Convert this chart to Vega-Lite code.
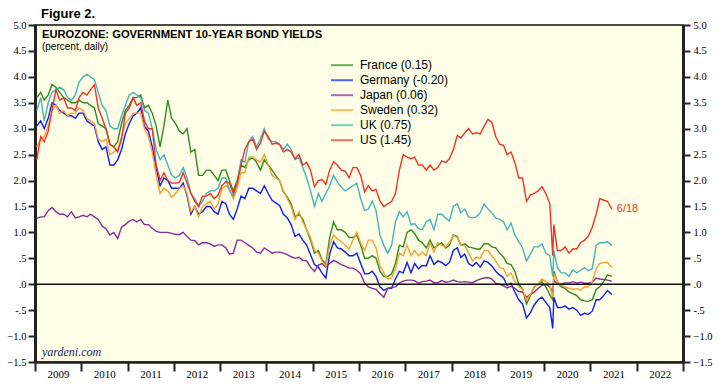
{
"$schema": "https://vega.github.io/schema/vega-lite/v6.json",
"width": 648, "height": 337,
"autosize": {"type": "none"},
"padding": {"left": 35, "top": 25, "right": 41, "bottom": 24},
"background": "white",
"config": {"view": {"fill": "#fffee6", "stroke": "#111", "strokeWidth": 1.5}, "font": "Liberation Sans"},
"title": {"text": "Figure 2.", "anchor": "start", "frame": "group", "fontSize": 13, "fontWeight": "bold", "font": "Liberation Sans", "baseline": "alphabetic", "offset": -11, "dx": 6, "color": "#000"},
"datasets": {"yields": [
{"d":"2009-01-15","France":3.6,"Germany":3.05,"Japan":1.27,"Sweden":2.65,"UK":3.35,"US":2.4},
{"d":"2009-02-15","France":3.7,"Germany":3.15,"Japan":1.3,"Sweden":2.8,"UK":3.6,"US":2.85},
{"d":"2009-03-15","France":3.55,"Germany":3.0,"Japan":1.3,"Sweden":2.85,"UK":3.15,"US":2.75},
{"d":"2009-04-15","France":3.65,"Germany":3.2,"Japan":1.42,"Sweden":3.05,"UK":3.5,"US":2.95},
{"d":"2009-05-15","France":3.85,"Germany":3.5,"Japan":1.48,"Sweden":3.35,"UK":3.7,"US":3.35},
{"d":"2009-06-15","France":3.8,"Germany":3.45,"Japan":1.4,"Sweden":3.45,"UK":3.75,"US":3.75},
{"d":"2009-07-15","France":3.7,"Germany":3.35,"Japan":1.35,"Sweden":3.3,"UK":3.8,"US":3.55},
{"d":"2009-08-15","France":3.6,"Germany":3.3,"Japan":1.35,"Sweden":3.35,"UK":3.75,"US":3.6},
{"d":"2009-09-15","France":3.55,"Germany":3.25,"Japan":1.3,"Sweden":3.25,"UK":3.6,"US":3.4},
{"d":"2009-10-15","France":3.5,"Germany":3.25,"Japan":1.4,"Sweden":3.3,"UK":3.55,"US":3.4},
{"d":"2009-11-15","France":3.5,"Germany":3.2,"Japan":1.28,"Sweden":3.3,"UK":3.65,"US":3.35},
{"d":"2009-12-15","France":3.55,"Germany":3.3,"Japan":1.3,"Sweden":3.4,"UK":3.9,"US":3.6},
{"d":"2010-01-15","France":3.5,"Germany":3.3,"Japan":1.33,"Sweden":3.35,"UK":4.0,"US":3.7},
{"d":"2010-02-15","France":3.5,"Germany":3.15,"Japan":1.3,"Sweden":3.2,"UK":4.05,"US":3.65},
{"d":"2010-03-15","France":3.45,"Germany":3.1,"Japan":1.35,"Sweden":3.15,"UK":4.0,"US":3.75},
{"d":"2010-04-15","France":3.4,"Germany":3.05,"Japan":1.3,"Sweden":3.1,"UK":3.95,"US":3.85},
{"d":"2010-05-15","France":3.1,"Germany":2.75,"Japan":1.25,"Sweden":2.8,"UK":3.7,"US":3.4},
{"d":"2010-06-15","France":3.05,"Germany":2.6,"Japan":1.12,"Sweden":2.75,"UK":3.45,"US":3.2},
{"d":"2010-07-15","France":3.0,"Germany":2.65,"Japan":1.07,"Sweden":2.8,"UK":3.35,"US":3.0},
{"d":"2010-08-15","France":2.7,"Germany":2.3,"Japan":0.95,"Sweden":2.5,"UK":3.05,"US":2.7},
{"d":"2010-09-15","France":2.65,"Germany":2.3,"Japan":1.0,"Sweden":2.55,"UK":3.0,"US":2.65},
{"d":"2010-10-15","France":2.75,"Germany":2.4,"Japan":0.88,"Sweden":2.6,"UK":3.0,"US":2.55},
{"d":"2010-11-15","France":3.1,"Germany":2.6,"Japan":1.1,"Sweden":2.85,"UK":3.25,"US":2.8},
{"d":"2010-12-15","France":3.35,"Germany":2.9,"Japan":1.15,"Sweden":3.1,"UK":3.45,"US":3.3},
{"d":"2011-01-15","France":3.45,"Germany":3.1,"Japan":1.22,"Sweden":3.2,"UK":3.65,"US":3.4},
{"d":"2011-02-15","France":3.6,"Germany":3.25,"Japan":1.25,"Sweden":3.3,"UK":3.7,"US":3.6},
{"d":"2011-03-15","France":3.6,"Germany":3.3,"Japan":1.2,"Sweden":3.3,"UK":3.65,"US":3.45},
{"d":"2011-04-15","France":3.65,"Germany":3.4,"Japan":1.25,"Sweden":3.3,"UK":3.6,"US":3.5},
{"d":"2011-05-15","France":3.4,"Germany":3.05,"Japan":1.15,"Sweden":3.0,"UK":3.35,"US":3.15},
{"d":"2011-06-15","France":3.45,"Germany":2.95,"Japan":1.15,"Sweden":2.85,"UK":3.3,"US":3.0},
{"d":"2011-07-15","France":3.3,"Germany":2.65,"Japan":1.08,"Sweden":2.55,"UK":3.0,"US":3.0},
{"d":"2011-08-15","France":3.05,"Germany":2.25,"Japan":1.02,"Sweden":2.1,"UK":2.6,"US":2.3},
{"d":"2011-09-15","France":2.65,"Germany":1.9,"Japan":1.0,"Sweden":1.75,"UK":2.4,"US":2.0},
{"d":"2011-10-15","France":3.05,"Germany":2.05,"Japan":1.0,"Sweden":1.85,"UK":2.5,"US":2.15},
{"d":"2011-11-15","France":3.55,"Germany":2.0,"Japan":1.0,"Sweden":1.8,"UK":2.3,"US":2.0},
{"d":"2011-12-15","France":3.2,"Germany":1.85,"Japan":0.98,"Sweden":1.68,"UK":2.1,"US":1.95},
{"d":"2012-01-15","France":3.1,"Germany":1.85,"Japan":0.96,"Sweden":1.75,"UK":2.05,"US":1.95},
{"d":"2012-02-15","France":2.95,"Germany":1.85,"Japan":0.96,"Sweden":1.85,"UK":2.1,"US":1.97},
{"d":"2012-03-15","France":2.9,"Germany":1.95,"Japan":1.0,"Sweden":1.9,"UK":2.25,"US":2.15},
{"d":"2012-04-15","France":3.0,"Germany":1.7,"Japan":0.92,"Sweden":1.75,"UK":2.05,"US":1.95},
{"d":"2012-05-15","France":2.55,"Germany":1.35,"Japan":0.85,"Sweden":1.4,"UK":1.75,"US":1.75},
{"d":"2012-06-15","France":2.6,"Germany":1.5,"Japan":0.84,"Sweden":1.5,"UK":1.65,"US":1.6},
{"d":"2012-07-15","France":2.1,"Germany":1.35,"Japan":0.76,"Sweden":1.3,"UK":1.5,"US":1.5},
{"d":"2012-08-15","France":2.1,"Germany":1.4,"Japan":0.8,"Sweden":1.5,"UK":1.6,"US":1.7},
{"d":"2012-09-15","France":2.2,"Germany":1.5,"Japan":0.8,"Sweden":1.55,"UK":1.75,"US":1.7},
{"d":"2012-10-15","France":2.2,"Germany":1.5,"Japan":0.78,"Sweden":1.6,"UK":1.8,"US":1.75},
{"d":"2012-11-15","France":2.1,"Germany":1.4,"Japan":0.73,"Sweden":1.45,"UK":1.8,"US":1.65},
{"d":"2012-12-15","France":2.0,"Germany":1.35,"Japan":0.76,"Sweden":1.55,"UK":1.85,"US":1.72},
{"d":"2013-01-15","France":2.2,"Germany":1.6,"Japan":0.76,"Sweden":1.85,"UK":2.05,"US":1.9},
{"d":"2013-02-15","France":2.2,"Germany":1.55,"Japan":0.7,"Sweden":1.9,"UK":2.05,"US":1.98},
{"d":"2013-03-15","France":2.0,"Germany":1.35,"Japan":0.58,"Sweden":1.85,"UK":1.8,"US":1.95},
{"d":"2013-04-15","France":1.8,"Germany":1.25,"Japan":0.6,"Sweden":1.65,"UK":1.7,"US":1.75},
{"d":"2013-05-15","France":2.0,"Germany":1.45,"Japan":0.85,"Sweden":1.85,"UK":1.95,"US":1.95},
{"d":"2013-06-15","France":2.3,"Germany":1.7,"Japan":0.85,"Sweden":2.15,"UK":2.4,"US":2.3},
{"d":"2013-07-15","France":2.25,"Germany":1.65,"Japan":0.8,"Sweden":2.15,"UK":2.35,"US":2.6},
{"d":"2013-08-15","France":2.4,"Germany":1.85,"Japan":0.75,"Sweden":2.45,"UK":2.75,"US":2.75},
{"d":"2013-09-15","France":2.45,"Germany":1.85,"Japan":0.7,"Sweden":2.45,"UK":2.85,"US":2.8},
{"d":"2013-10-15","France":2.35,"Germany":1.8,"Japan":0.62,"Sweden":2.4,"UK":2.65,"US":2.6},
{"d":"2013-11-15","France":2.2,"Germany":1.75,"Japan":0.6,"Sweden":2.35,"UK":2.8,"US":2.72},
{"d":"2013-12-15","France":2.4,"Germany":1.9,"Japan":0.7,"Sweden":2.5,"UK":3.0,"US":2.95},
{"d":"2014-01-15","France":2.3,"Germany":1.75,"Japan":0.65,"Sweden":2.3,"UK":2.8,"US":2.85},
{"d":"2014-02-15","France":2.2,"Germany":1.62,"Japan":0.6,"Sweden":2.1,"UK":2.75,"US":2.7},
{"d":"2014-03-15","France":2.1,"Germany":1.57,"Japan":0.62,"Sweden":2.05,"UK":2.75,"US":2.72},
{"d":"2014-04-15","France":2.0,"Germany":1.52,"Japan":0.62,"Sweden":2.0,"UK":2.7,"US":2.7},
{"d":"2014-05-15","France":1.78,"Germany":1.35,"Japan":0.6,"Sweden":1.8,"UK":2.6,"US":2.55},
{"d":"2014-06-15","France":1.68,"Germany":1.28,"Japan":0.57,"Sweden":1.65,"UK":2.7,"US":2.6},
{"d":"2014-07-15","France":1.55,"Germany":1.15,"Japan":0.53,"Sweden":1.5,"UK":2.6,"US":2.55},
{"d":"2014-08-15","France":1.3,"Germany":0.92,"Japan":0.5,"Sweden":1.25,"UK":2.4,"US":2.42},
{"d":"2014-09-15","France":1.35,"Germany":0.97,"Japan":0.52,"Sweden":1.4,"UK":2.45,"US":2.5},
{"d":"2014-10-15","France":1.25,"Germany":0.85,"Japan":0.46,"Sweden":1.2,"UK":2.25,"US":2.3},
{"d":"2014-11-15","France":1.05,"Germany":0.75,"Japan":0.45,"Sweden":1.05,"UK":2.05,"US":2.35},
{"d":"2014-12-15","France":0.85,"Germany":0.57,"Japan":0.33,"Sweden":0.9,"UK":1.8,"US":2.2},
{"d":"2015-01-15","France":0.6,"Germany":0.38,"Japan":0.25,"Sweden":0.65,"UK":1.5,"US":1.88},
{"d":"2015-02-15","France":0.65,"Germany":0.33,"Japan":0.37,"Sweden":0.6,"UK":1.75,"US":2.0},
{"d":"2015-03-15","France":0.48,"Germany":0.22,"Japan":0.4,"Sweden":0.45,"UK":1.6,"US":2.02},
{"d":"2015-04-15","France":0.38,"Germany":0.12,"Japan":0.33,"Sweden":0.35,"UK":1.75,"US":1.93},
{"d":"2015-05-15","France":0.9,"Germany":0.58,"Japan":0.4,"Sweden":0.75,"UK":1.9,"US":2.2},
{"d":"2015-06-15","France":1.2,"Germany":0.82,"Japan":0.46,"Sweden":0.95,"UK":2.1,"US":2.36},
{"d":"2015-07-15","France":1.05,"Germany":0.7,"Japan":0.42,"Sweden":0.88,"UK":1.97,"US":2.3},
{"d":"2015-08-15","France":1.05,"Germany":0.68,"Japan":0.38,"Sweden":0.82,"UK":1.87,"US":2.2},
{"d":"2015-09-15","France":1.0,"Germany":0.62,"Japan":0.35,"Sweden":0.75,"UK":1.8,"US":2.18},
{"d":"2015-10-15","France":0.9,"Germany":0.55,"Japan":0.31,"Sweden":0.68,"UK":1.85,"US":2.05},
{"d":"2015-11-15","France":0.9,"Germany":0.55,"Japan":0.31,"Sweden":0.85,"UK":1.9,"US":2.25},
{"d":"2015-12-15","France":0.95,"Germany":0.6,"Japan":0.27,"Sweden":1.0,"UK":1.95,"US":2.25},
{"d":"2016-01-15","France":0.75,"Germany":0.4,"Japan":0.2,"Sweden":0.8,"UK":1.65,"US":2.1},
{"d":"2016-02-15","France":0.5,"Germany":0.2,"Japan":0.02,"Sweden":0.65,"UK":1.42,"US":1.78},
{"d":"2016-03-15","France":0.5,"Germany":0.2,"Japan":-0.05,"Sweden":0.85,"UK":1.45,"US":1.9},
{"d":"2016-04-15","France":0.55,"Germany":0.25,"Japan":-0.08,"Sweden":0.85,"UK":1.6,"US":1.8},
{"d":"2016-05-15","France":0.5,"Germany":0.15,"Japan":-0.1,"Sweden":0.7,"UK":1.42,"US":1.83},
{"d":"2016-06-15","France":0.25,"Germany":-0.05,"Japan":-0.18,"Sweden":0.35,"UK":0.95,"US":1.6},
{"d":"2016-07-15","France":0.15,"Germany":-0.12,"Japan":-0.25,"Sweden":0.22,"UK":0.75,"US":1.5},
{"d":"2016-08-15","France":0.15,"Germany":-0.08,"Japan":-0.08,"Sweden":0.1,"UK":0.6,"US":1.55},
{"d":"2016-09-15","France":0.2,"Germany":-0.08,"Japan":-0.06,"Sweden":0.12,"UK":0.75,"US":1.6},
{"d":"2016-10-15","France":0.4,"Germany":0.1,"Japan":-0.05,"Sweden":0.3,"UK":1.2,"US":1.75},
{"d":"2016-11-15","France":0.75,"Germany":0.25,"Japan":0.02,"Sweden":0.6,"UK":1.4,"US":2.2},
{"d":"2016-12-15","France":0.72,"Germany":0.22,"Japan":0.06,"Sweden":0.55,"UK":1.3,"US":2.5},
{"d":"2017-01-15","France":1.0,"Germany":0.42,"Japan":0.08,"Sweden":0.75,"UK":1.4,"US":2.45},
{"d":"2017-02-15","France":1.05,"Germany":0.22,"Japan":0.08,"Sweden":0.55,"UK":1.15,"US":2.42},
{"d":"2017-03-15","France":0.98,"Germany":0.4,"Japan":0.07,"Sweden":0.65,"UK":1.17,"US":2.45},
{"d":"2017-04-15","France":0.85,"Germany":0.3,"Japan":0.02,"Sweden":0.55,"UK":1.07,"US":2.3},
{"d":"2017-05-15","France":0.8,"Germany":0.36,"Japan":0.05,"Sweden":0.62,"UK":1.05,"US":2.3},
{"d":"2017-06-15","France":0.7,"Germany":0.35,"Japan":0.06,"Sweden":0.55,"UK":1.2,"US":2.2},
{"d":"2017-07-15","France":0.85,"Germany":0.55,"Japan":0.08,"Sweden":0.8,"UK":1.25,"US":2.3},
{"d":"2017-08-15","France":0.7,"Germany":0.38,"Japan":0.03,"Sweden":0.62,"UK":1.05,"US":2.2},
{"d":"2017-09-15","France":0.75,"Germany":0.45,"Japan":0.03,"Sweden":0.8,"UK":1.35,"US":2.25},
{"d":"2017-10-15","France":0.8,"Germany":0.42,"Japan":0.07,"Sweden":0.75,"UK":1.35,"US":2.38},
{"d":"2017-11-15","France":0.7,"Germany":0.36,"Japan":0.04,"Sweden":0.72,"UK":1.28,"US":2.35},
{"d":"2017-12-15","France":0.75,"Germany":0.42,"Japan":0.05,"Sweden":0.8,"UK":1.22,"US":2.42},
{"d":"2018-01-15","France":0.95,"Germany":0.65,"Japan":0.08,"Sweden":0.95,"UK":1.5,"US":2.6},
{"d":"2018-02-15","France":0.92,"Germany":0.7,"Japan":0.05,"Sweden":0.9,"UK":1.55,"US":2.87},
{"d":"2018-03-15","France":0.75,"Germany":0.52,"Japan":0.04,"Sweden":0.75,"UK":1.38,"US":2.82},
{"d":"2018-04-15","France":0.78,"Germany":0.58,"Japan":0.05,"Sweden":0.75,"UK":1.45,"US":2.92},
{"d":"2018-05-15","France":0.72,"Germany":0.4,"Japan":0.04,"Sweden":0.6,"UK":1.3,"US":3.0},
{"d":"2018-06-15","France":0.7,"Germany":0.35,"Japan":0.03,"Sweden":0.45,"UK":1.28,"US":2.9},
{"d":"2018-07-15","France":0.68,"Germany":0.42,"Japan":0.07,"Sweden":0.52,"UK":1.3,"US":2.92},
{"d":"2018-08-15","France":0.68,"Germany":0.33,"Japan":0.1,"Sweden":0.5,"UK":1.38,"US":2.9},
{"d":"2018-09-15","France":0.78,"Germany":0.45,"Japan":0.12,"Sweden":0.65,"UK":1.55,"US":3.05},
{"d":"2018-10-15","France":0.78,"Germany":0.42,"Japan":0.13,"Sweden":0.65,"UK":1.45,"US":3.18},
{"d":"2018-11-15","France":0.72,"Germany":0.35,"Japan":0.1,"Sweden":0.55,"UK":1.38,"US":3.12},
{"d":"2018-12-15","France":0.7,"Germany":0.25,"Japan":0.02,"Sweden":0.45,"UK":1.28,"US":2.85},
{"d":"2019-01-15","France":0.6,"Germany":0.18,"Japan":0.0,"Sweden":0.32,"UK":1.25,"US":2.7},
{"d":"2019-02-15","France":0.52,"Germany":0.12,"Japan":-0.03,"Sweden":0.3,"UK":1.2,"US":2.68},
{"d":"2019-03-15","France":0.4,"Germany":-0.02,"Japan":-0.07,"Sweden":0.15,"UK":1.05,"US":2.5},
{"d":"2019-04-15","France":0.38,"Germany":0.02,"Japan":-0.04,"Sweden":0.22,"UK":1.18,"US":2.55},
{"d":"2019-05-15","France":0.25,"Germany":-0.15,"Japan":-0.08,"Sweden":0.05,"UK":0.95,"US":2.35},
{"d":"2019-06-15","France":0.0,"Germany":-0.3,"Japan":-0.14,"Sweden":-0.05,"UK":0.82,"US":2.05},
{"d":"2019-07-15","France":-0.1,"Germany":-0.38,"Japan":-0.15,"Sweden":-0.1,"UK":0.7,"US":2.05},
{"d":"2019-08-15","France":-0.38,"Germany":-0.65,"Japan":-0.25,"Sweden":-0.3,"UK":0.45,"US":1.6},
{"d":"2019-09-15","France":-0.22,"Germany":-0.55,"Japan":-0.2,"Sweden":-0.2,"UK":0.58,"US":1.72},
{"d":"2019-10-15","France":-0.05,"Germany":-0.4,"Japan":-0.15,"Sweden":-0.05,"UK":0.72,"US":1.75},
{"d":"2019-11-15","France":0.0,"Germany":-0.3,"Japan":-0.08,"Sweden":0.0,"UK":0.72,"US":1.8},
{"d":"2019-12-15","France":0.05,"Germany":-0.25,"Japan":-0.02,"Sweden":0.1,"UK":0.78,"US":1.88},
{"d":"2020-01-15","France":-0.05,"Germany":-0.35,"Japan":0.0,"Sweden":0.05,"UK":0.6,"US":1.75},
{"d":"2020-02-15","France":-0.2,"Germany":-0.45,"Japan":-0.05,"Sweden":-0.02,"UK":0.55,"US":1.55},
{"d":"2020-03-09","France":-0.3,"Germany":-0.85,"Japan":-0.15,"Sweden":-0.25,"UK":0.15,"US":0.55},
{"d":"2020-03-18","France":0.25,"Germany":-0.25,"Japan":0.08,"Sweden":0.2,"UK":0.65,"US":1.15},
{"d":"2020-04-15","France":0.05,"Germany":-0.45,"Japan":0.0,"Sweden":0.05,"UK":0.32,"US":0.65},
{"d":"2020-05-15","France":-0.05,"Germany":-0.45,"Japan":0.0,"Sweden":-0.02,"UK":0.22,"US":0.65},
{"d":"2020-06-15","France":-0.08,"Germany":-0.42,"Japan":0.03,"Sweden":-0.05,"UK":0.22,"US":0.72},
{"d":"2020-07-15","France":-0.15,"Germany":-0.48,"Japan":0.02,"Sweden":-0.08,"UK":0.15,"US":0.6},
{"d":"2020-08-15","France":-0.18,"Germany":-0.45,"Japan":0.05,"Sweden":-0.1,"UK":0.28,"US":0.68},
{"d":"2020-09-15","France":-0.22,"Germany":-0.5,"Japan":0.02,"Sweden":-0.08,"UK":0.22,"US":0.68},
{"d":"2020-10-15","France":-0.3,"Germany":-0.6,"Japan":0.04,"Sweden":-0.12,"UK":0.27,"US":0.8},
{"d":"2020-11-15","France":-0.32,"Germany":-0.56,"Japan":0.02,"Sweden":-0.05,"UK":0.32,"US":0.85},
{"d":"2020-12-15","France":-0.33,"Germany":-0.58,"Japan":0.02,"Sweden":-0.05,"UK":0.26,"US":0.93},
{"d":"2021-01-15","France":-0.3,"Germany":-0.52,"Japan":0.04,"Sweden":0.05,"UK":0.3,"US":1.1},
{"d":"2021-02-15","France":-0.1,"Germany":-0.3,"Japan":0.12,"Sweden":0.3,"UK":0.75,"US":1.35},
{"d":"2021-03-15","France":-0.05,"Germany":-0.3,"Japan":0.1,"Sweden":0.4,"UK":0.8,"US":1.65},
{"d":"2021-04-15","France":0.05,"Germany":-0.22,"Japan":0.09,"Sweden":0.42,"UK":0.8,"US":1.62},
{"d":"2021-05-15","France":0.18,"Germany":-0.12,"Japan":0.08,"Sweden":0.42,"UK":0.82,"US":1.6},
{"d":"2021-06-18","France":0.15,"Germany":-0.2,"Japan":0.06,"Sweden":0.32,"UK":0.75,"US":1.45}
]},
"layer": [
{
"data": {"name": "yields"},
"transform": [{"fold": ["France","Germany","Japan","Sweden","UK","US"], "as": ["country","value"]}],
"mark": {"type": "line", "strokeWidth": 1.4},
"encoding": {
"x": {"field": "d", "type": "temporal",
"scale": {"domain": [{"year":2009,"month":1,"date":1},{"year":2023,"month":1,"date":1}]},
"axis": {"orient": "bottom", "values": [{"year":2009,"month":1,"date":1},{"year":2010,"month":1,"date":1},{"year":2011,"month":1,"date":1},{"year":2012,"month":1,"date":1},{"year":2013,"month":1,"date":1},{"year":2014,"month":1,"date":1},{"year":2015,"month":1,"date":1},{"year":2016,"month":1,"date":1},{"year":2017,"month":1,"date":1},{"year":2018,"month":1,"date":1},{"year":2019,"month":1,"date":1},{"year":2020,"month":1,"date":1},{"year":2021,"month":1,"date":1},{"year":2022,"month":1,"date":1},{"year":2023,"month":1,"date":1}],
"labelExpr": "year(datum.value) > 2022 ? '' : timeFormat(datum.value, '%Y')",
"labelOffset": 23, "tickSize": 9, "tickWidth": 2, "tickColor": "#222", "domainWidth": 2.5, "domainColor": "#222",
"labelFont": "Liberation Serif", "labelFontSize": 11, "labelPadding": -3, "labelColor": "#000",
"title": null, "grid": false, "labelOverlap": false, "labelFlush": false, "labelBound": false}},
"y": {"field": "value", "type": "quantitative",
"scale": {"domain": [-1.5, 5], "nice": false, "zero": false},
"axis": {"orient": "left", "values": [-1.5,-1,-0.5,0,0.5,1,1.5,2,2.5,3,3.5,4,4.5,5],
"labelExpr": "abs(datum.value) < 1 ? (datum.value < 0 ? '-' : '') + '.' + format(abs(datum.value)*10, 'd') : format(datum.value, '.1f')",
"tickSize": 7, "tickWidth": 2, "tickColor": "#222", "domainWidth": 3, "domainColor": "#222",
"labelFont": "Liberation Serif", "labelFontSize": 10.5, "labelPadding": 2, "labelColor": "#000",
"title": null, "grid": false, "labelOverlap": false, "labelBound": false, "labelFlush": false}},
"color": {"field": "country", "type": "nominal",
"scale": {"domain": ["France","Germany","Japan","Sweden","UK","US"], "range": ["#2f8a1e","#0a1eff","#8e2a9e","#f5a133","#44b3bb","#ee3329"]},
"legend": {"title": null, "orient": "none", "legendX": 295, "legendY": 33, "padding": 0,
"symbolType": "stroke", "symbolSize": 484, "symbolStrokeWidth": 2, "symbolOpacity": 0.7,
"labelFontSize": 12, "labelFont": "Liberation Sans", "labelColor": "#000", "labelOffset": 6,
"clipHeight": 14.4, "rowPadding": 0,
"labelExpr": "datum.label == 'France' ? 'France (0.15)' : datum.label == 'Germany' ? 'Germany (-0.20)' : datum.label == 'Japan' ? 'Japan (0.06)' : datum.label == 'Sweden' ? 'Sweden (0.32)' : datum.label == 'UK' ? 'UK (0.75)' : 'US (1.45)'"}}
}
},
{
"data": {"values": [{}]},
"mark": {"type": "rule", "color": "#111", "strokeWidth": 1.5},
"encoding": {"y": {"datum": 0, "type": "quantitative",
"axis": {"orient": "right", "values": [-1.5,-1,-0.5,0,0.5,1,1.5,2,2.5,3,3.5,4,4.5,5],
"labelExpr": "abs(datum.value) < 1 ? (datum.value < 0 ? '-' : '') + '.' + format(abs(datum.value)*10, 'd') : format(datum.value, '.1f')",
"tickSize": 7, "tickWidth": 2, "tickColor": "#222", "domainWidth": 3, "domainColor": "#222",
"labelFont": "Liberation Serif", "labelFontSize": 10.5, "labelPadding": 3, "labelColor": "#000",
"title": null, "grid": false, "labelOverlap": false, "labelBound": false, "labelFlush": false}}}
},
{
"data": {"name": "yields"},
"transform": [{"fold": ["US"], "as": ["country","value"]}, {"joinaggregate": [{"op": "max", "field": "d", "as": "maxd"}]}, {"filter": "time(datum.d) == time(datum.maxd)"}],
"mark": {"type": "text", "text": "6/18", "align": "left", "baseline": "middle", "dx": 5, "fontSize": 11, "font": "Liberation Sans", "color": "#ee3329"},
"encoding": {"x": {"field": "d", "type": "temporal", "axis": null}, "y": {"field": "value", "type": "quantitative", "axis": null}}
},
{
"data": {"values": [{}]},
"mark": {"type": "text", "text": "EUROZONE: GOVERNMENT 10-YEAR BOND YIELDS", "align": "left", "baseline": "alphabetic", "fontSize": 11.2, "fontWeight": "bold", "font": "Liberation Sans", "color": "#000"},
"encoding": {"x": {"datum": {"year":2009,"month":2,"date":25}, "type": "temporal", "axis": null}, "y": {"datum": 4.75, "type": "quantitative", "axis": null}}
},
{
"data": {"values": [{}]},
"mark": {"type": "text", "text": "(percent, daily)", "align": "left", "baseline": "alphabetic", "fontSize": 10, "font": "Liberation Sans", "color": "#000"},
"encoding": {"x": {"datum": {"year":2009,"month":2,"date":25}, "type": "temporal", "axis": null}, "y": {"datum": 4.515, "type": "quantitative", "axis": null}}
},
{
"data": {"values": [{}]},
"mark": {"type": "text", "text": "yardeni.com", "align": "left", "baseline": "alphabetic", "fontSize": 12, "fontStyle": "italic", "font": "Liberation Serif", "color": "#1c1c6b"},
"encoding": {"x": {"datum": {"year":2009,"month":2,"date":25}, "type": "temporal", "axis": null}, "y": {"datum": -1.385, "type": "quantitative", "axis": null}}
}
],
"resolve": {"axis": {"x": "independent", "y": "independent"}}
}
